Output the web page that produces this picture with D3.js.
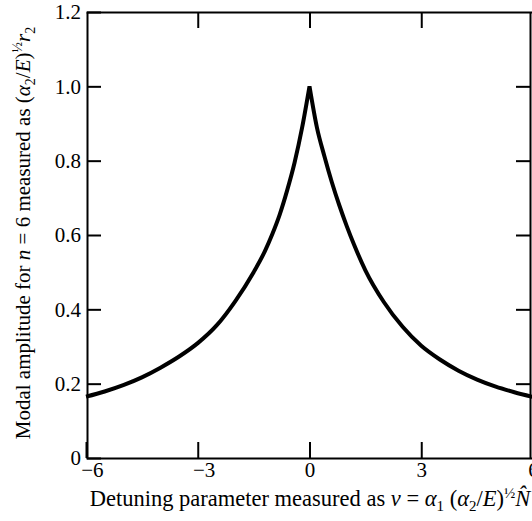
<!DOCTYPE html>
<html>
<head>
<meta charset="utf-8">
<script src="https://cdn.jsdelivr.net/npm/d3@7/dist/d3.min.js"></script>
<style>
    body { margin: 0; background: #fff; }
    svg { display: block; font-family: "Liberation Serif", "Times New Roman", serif; }
</style>
</head>
<body>
<div id="chart"></div>
<script>
// values (nu, modal amplitude)
const nuValues = [-6, -5.5, -5, -4.5, -4, -3.5, -3, -2.5, -2, -1.5, -1.2, -1, -0.8, -0.6, -0.4, -0.2, 0,
                  0.2, 0.4, 0.6, 0.8, 1, 1.2, 1.5, 2, 2.5, 3, 3.5, 4, 4.5, 5, 5.5, 6];
const amplitudes = [0.165, 0.179, 0.196, 0.217, 0.243, 0.273, 0.309, 0.356, 0.421, 0.500, 0.556, 0.602, 0.655, 0.720, 0.795, 0.888, 1.0,
                    0.889, 0.812, 0.742, 0.680, 0.624, 0.573, 0.505, 0.419, 0.353, 0.302, 0.265, 0.235, 0.211, 0.192, 0.177, 0.164];

const xTickValues = [-6, -3, 0, 3, 6];
const yTickValues = [0, 0.2, 0.4, 0.6, 0.8, 1.0, 1.2];

const xTitle = [
    {t: "Detuning parameter measured as "}, {t: "ν", i: 1}, {t: " = "}, {t: "α", i: 1}, {t: "1", sub: 1},
    {t: " ("}, {t: "α", i: 1}, {t: "2", sub: 1}, {t: "/"}, {t: "E", i: 1}, {t: ")"}, {t: "½", sup: 1}, {t: "N̂", i: 1}
];
const yTitle = [
    {t: "Modal amplitude for "}, {t: "n", i: 1}, {t: " = 6 measured as ("}, {t: "α", i: 1}, {t: "2", sub: 1},
    {t: "/"}, {t: "E", i: 1}, {t: ")"}, {t: "½", sup: 1}, {t: "r", i: 1}, {t: "2", sub: 1}
];

const width = 532, height = 521;
const left = 87, right = 530;

const svg = d3.select("#chart").append("svg")
    .attr("width", width)
    .attr("height", height);

const x = d3.scaleLinear().domain([-6, 6]).range([86, 533]);
const y = d3.scaleLinear().domain([0, 1.2]).range([458, 12]);

function styleAxis(g) {
    g.attr("font-family", null).attr("font-size", null);
    g.selectAll("path, line").attr("stroke", "#000").attr("stroke-width", 2);
    g.selectAll("text").attr("fill", "#000").style("font-size", "21px");
}

svg.append("g")
    .attr("transform", `translate(0,${y(0)})`)
    .call(d3.axisBottom(x).tickValues(xTickValues).tickSizeInner(-16).tickSizeOuter(0).tickPadding(4))
    .call(styleAxis)
    .selectAll("text").attr("dx", d => d < 0 ? "0.28em" : 0);

svg.append("g")
    .attr("transform", `translate(0,${y(1.2)})`)
    .call(d3.axisTop(x).tickValues([-3, 0, 3]).tickSizeInner(-16).tickSizeOuter(0).tickFormat(""))
    .call(styleAxis);

svg.append("g")
    .attr("transform", `translate(${left},0)`)
    .call(d3.axisLeft(y).tickValues(yTickValues).tickSizeInner(-14).tickSizeOuter(0).tickPadding(6)
        .tickFormat(d => d === 0 ? "0" : d3.format(".1f")(d)))
    .call(styleAxis);

svg.append("g")
    .attr("transform", `translate(${right},0)`)
    .call(d3.axisRight(y).tickValues(yTickValues.filter(v => v > 0 && v < 1.2)).tickSizeInner(-14).tickSizeOuter(0).tickFormat(""))
    .call(styleAxis);

// curve: two branches joined at the cusp
const pts = nuValues.map((v, k) => [v, amplitudes[k]]);
const line = d3.line().x(d => x(d[0])).y(d => y(d[1])).curve(d3.curveMonotoneX);
const leftPath = line(pts.filter(d => d[0] <= 0));
const rightPath = line(pts.filter(d => d[0] >= 0));

svg.append("path")
    .attr("d", leftPath + rightPath.replace(/^M/, "L"))
    .attr("fill", "none")
    .attr("stroke", "#000")
    .attr("stroke-width", 4)
    .attr("stroke-linejoin", "miter");

function richText(sel, segs, size) {
    let shift = 0;
    segs.forEach(s => {
        const target = s.sub ? 5 : s.sup ? -8 : 0;
        sel.append("tspan")
            .attr("dy", target - shift)
            .style("font-style", s.i ? "italic" : "normal")
            .style("font-size", (s.sub || s.sup) ? Math.round(size * 0.68) + "px" : size + "px")
            .text(s.t);
        shift = target;
    });
}

const xt = svg.append("text")
    .attr("x", 310)
    .attr("y", 506)
    .attr("text-anchor", "middle");
richText(xt, xTitle, 22.5);

const yt = svg.append("text")
    .attr("transform", "translate(30,233) rotate(-90)")
    .attr("text-anchor", "middle");
richText(yt, yTitle, 21);
</script>
</body>
</html>
